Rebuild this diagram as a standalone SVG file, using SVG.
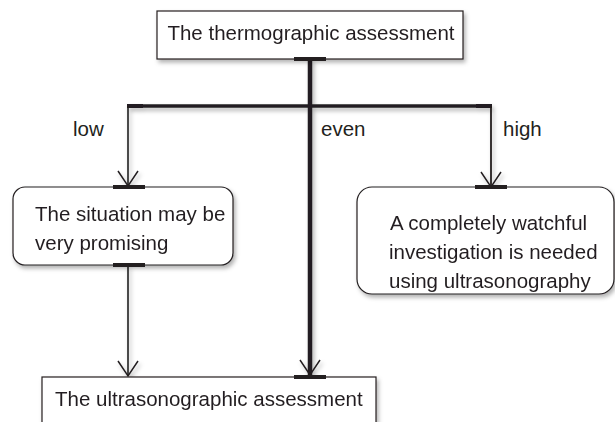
<svg xmlns="http://www.w3.org/2000/svg" width="615" height="422" viewBox="0 0 615 422">
<style>
text{font-family:"Liberation Sans",Arial,sans-serif;font-size:20.5px;fill:#231f20}
.box{fill:#fff;stroke:#231f20;stroke-width:1.2}
.ln{fill:none;stroke:#231f20;stroke-linecap:butt}
.bar{stroke:#231f20;stroke-width:4}
.ah{fill:none;stroke:#231f20;stroke-width:1.5}
</style>
<defs>
<filter id="sh" x="-20%" y="-20%" width="140%" height="140%">
<feDropShadow dx="2" dy="3" stdDeviation="2" flood-color="#000" flood-opacity="0.3"/>
</filter>
</defs>
<rect width="615" height="422" fill="#fff"/>
<g id="connectors" filter="url(#sh)">
<line class="ln" x1="310" y1="59" x2="310" y2="375" stroke-width="4.5"/>
<line class="ln" x1="127" y1="106" x2="492" y2="106" stroke-width="3.5"/>
<line class="bar" x1="127" y1="106" x2="143" y2="106"/>
<line class="bar" x1="476" y1="106" x2="492" y2="106"/>
<line class="ln" x1="128" y1="106" x2="128" y2="186" stroke-width="1.6"/>
<polyline class="ah" points="118,171 128,186 138,171"/>
<line class="ln" x1="491" y1="106" x2="491" y2="187" stroke-width="1.8"/>
<polyline class="ah" points="481,172 491,187 501,172"/>
<line class="ln" x1="128" y1="265" x2="128" y2="376" stroke-width="1.6"/>
<polyline class="ah" points="118,361 128,376 138,361"/>
<polyline class="ah" points="300,360 310,375 320,360"/>
</g>
<g id="top" filter="url(#sh)">
<rect class="box" x="157" y="11" width="306" height="48"/>
<text x="311" y="40" text-anchor="middle">The thermographic assessment</text>
</g>
<g id="left" filter="url(#sh)">
<rect class="box" x="13" y="187" width="220" height="78" rx="12"/>
<text x="35" y="221">The situation may be</text>
<text x="35" y="250">very promising</text>
</g>
<g id="right" filter="url(#sh)">
<rect class="box" x="357" y="187" width="257" height="107" rx="15"/>
<text x="390" y="230">A completely watchful</text>
<text x="389" y="259">investigation is needed</text>
<text x="389" y="288">using ultrasonography</text>
</g>
<g id="bottom" filter="url(#sh)">
<rect class="box" x="42" y="377" width="334" height="60"/>
<text x="55" y="406">The ultrasonographic assessment</text>
</g>
<g id="bars">
<line class="bar" x1="294" y1="59" x2="326" y2="59"/>
<line class="bar" x1="113" y1="187" x2="145" y2="187"/>
<line class="bar" x1="113" y1="265" x2="145" y2="265"/>
<line class="bar" x1="475" y1="187" x2="507" y2="187"/>
<line class="bar" x1="294" y1="377" x2="326" y2="377"/>
</g>
<g id="labels">
<text x="73" y="136">low</text>
<text x="321" y="136">even</text>
<text x="503" y="136">high</text>
</g>
</svg>
